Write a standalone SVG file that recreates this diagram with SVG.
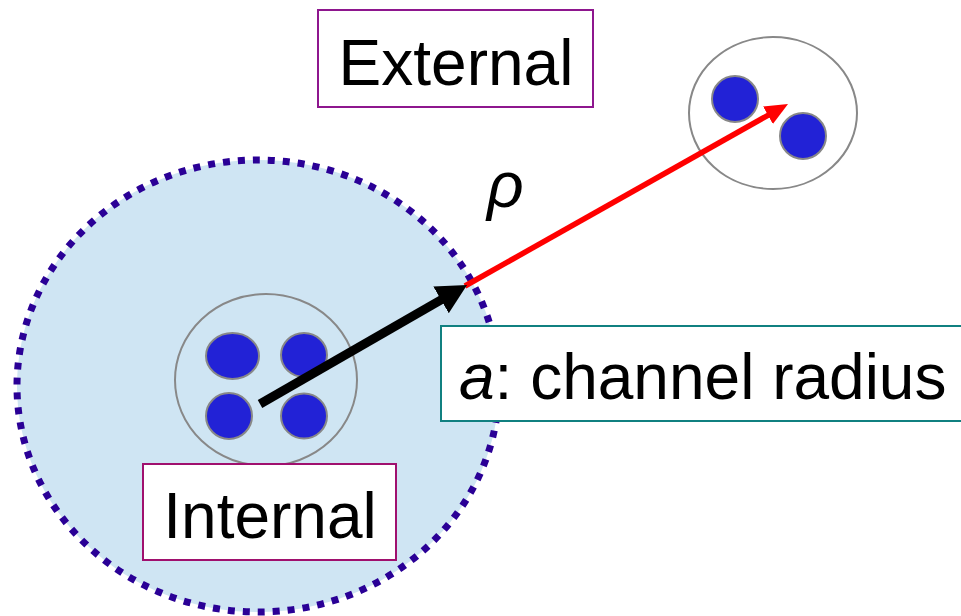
<svg xmlns="http://www.w3.org/2000/svg" width="961" height="616" viewBox="0 0 961 616">
<style>
.grey{fill:none;stroke:#888;stroke-width:2}
.ion{fill:#2222d6;stroke:#888;stroke-width:2}
.box{fill:#fff;stroke-width:2}
.lbl{font-family:"Liberation Sans",Arial,sans-serif;font-size:64px;fill:#000}
</style>
<defs>
<marker id="hb" markerUnits="userSpaceOnUse" markerWidth="32" markerHeight="32" refX="4" refY="15.5" orient="auto">
<path d="M0,0 L30,15.5 L0,31 z" fill="#000"/>
</marker>
<marker id="hr" markerUnits="userSpaceOnUse" markerWidth="24" markerHeight="22" refX="3" refY="10" orient="auto">
<path d="M0,0 L23,10 L0,20 z" fill="#ff0000"/>
</marker>
</defs>
<g id="channel">
<ellipse cx="258" cy="386" rx="241" ry="226" fill="#cfe5f3" stroke="#2a0096" stroke-width="7" stroke-dasharray="7 8"/>
</g>
<g id="internal-cluster">
<ellipse class="grey" cx="266" cy="380" rx="91" ry="86"/>
<ellipse class="ion" cx="232.5" cy="356" rx="26.5" ry="23"/>
<ellipse class="ion" cx="304" cy="355" rx="23" ry="22"/>
<ellipse class="ion" cx="229" cy="416" rx="23" ry="23"/>
<ellipse class="ion" cx="304" cy="416" rx="23" ry="22.5"/>
</g>
<g id="external-cluster">
<ellipse class="grey" cx="773" cy="113" rx="84" ry="76"/>
<circle class="ion" cx="735" cy="99" r="23"/>
<circle class="ion" cx="803" cy="136" r="23"/>
</g>
<g id="connectors">
<line x1="465" y1="286" x2="770.6" y2="113.8" stroke="#ff0000" stroke-width="5.5" marker-end="url(#hr)"/>
<line x1="260" y1="404" x2="444.5" y2="297.9" stroke="#000" stroke-width="9" marker-end="url(#hb)"/>
</g>
<g id="external-label">
<rect class="box" x="318" y="10" width="275" height="97" stroke="#8e168e"/>
<text class="lbl" x="456" y="85" text-anchor="middle">External</text>
</g>
<g id="internal-label">
<rect class="box" x="143" y="464" width="253" height="96" stroke="#a0106e"/>
<text class="lbl" x="270" y="538" text-anchor="middle">Internal</text>
</g>
<g id="radius-label">
<rect class="box" x="441" y="326" width="530" height="95" stroke="#108080"/>
<text class="lbl" x="459" y="399"><tspan font-style="italic">a</tspan>: channel radius</text>
</g>
<g id="rho-label">
<text class="lbl" x="487" y="207" font-style="italic" font-size="62">ρ</text>
</g>
</svg>
